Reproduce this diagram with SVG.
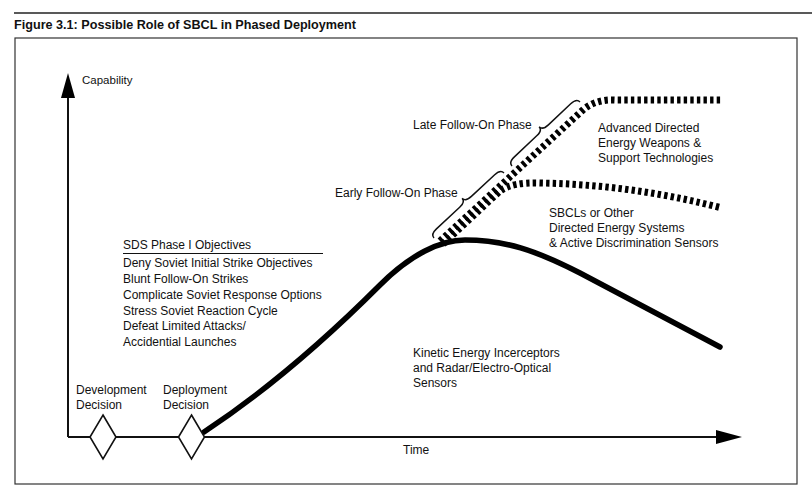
<svg xmlns="http://www.w3.org/2000/svg" width="812" height="500" viewBox="0 0 812 500">
<style>
  text { font-family: "Liberation Sans", Arial, sans-serif; font-size: 12px; fill: #111; }
  .title { font-weight: bold; font-size: 12.5px; }
  .axis { stroke: #111; stroke-width: 2; fill: none; }
  .solid { stroke: #000; stroke-width: 5.5; fill: none; stroke-linecap: round; }
  .dash { stroke: #000; stroke-width: 7; fill: none; stroke-dasharray: 3.4 3.2; }
  .brace { stroke: #111; stroke-width: 1.5; fill: none; }
  .diamond { fill: #fff; stroke: #111; stroke-width: 1.6; }
  .frame { fill: none; stroke: #333; stroke-width: 1.2; }
</style>
<rect width="812" height="500" fill="#fff"/>
<line x1="14" y1="13" x2="812" y2="13" stroke="#222" stroke-width="1.5"/>
<text class="title" x="14" y="29" textLength="342" lengthAdjust="spacingAndGlyphs">Figure 3.1: Possible Role of SBCL in Phased Deployment</text>
<rect class="frame" x="15" y="38" width="782" height="446"/>

<g id="axes">
  <line class="axis" x1="68" y1="437" x2="68" y2="94"/>
  <polygon points="68,73 61,98 75,98" fill="#000"/>
  <line class="axis" x1="68" y1="437" x2="720" y2="437"/>
  <polygon points="742,437 716,430 716,444" fill="#000"/>
  <text x="82" y="84" style="font-size:11.5px">Capability</text>
  <text x="403" y="454">Time</text>
</g>

<g id="connectors">
  <path class="solid" d="M 204 432 C 260 395, 320 345, 380 285 C 410 255, 440 240, 465 240 C 505 240, 535 250, 580 273 L 720 347"/>
  <path class="dash" d="M 440 241 L 584 109 Q 597 99, 615 100 L 722 100"/>
  <path class="dash" d="M 443 244 L 500 191 Q 512 182, 540 183 C 600 184, 660 192, 722 208"/>
</g>

<g id="early-brace">
  <g transform="translate(434,238) rotate(-42.9)">
    <path class="brace" d="M 0 0 Q 0 -5 8 -5 L 39.7 -5 Q 47.7 -5 47.7 -10 Q 47.7 -5 55.7 -5 L 87.5 -5 Q 95.5 -5 95.5 0"/>
  </g>
  <text x="335" y="197">Early Follow-On Phase</text>
</g>

<g id="late-brace">
  <g transform="translate(512,166) rotate(-43.3)">
    <path class="brace" d="M 0 0 Q 0 -5 8 -5 L 38.7 -5 Q 46.7 -5 46.7 -10 Q 46.7 -5 54.7 -5 L 85.4 -5 Q 93.4 -5 93.4 0"/>
  </g>
  <text x="413" y="129">Late Follow-On Phase</text>
</g>

<g id="advanced">
  <text x="598" y="132">Advanced Directed</text>
  <text x="598" y="147">Energy Weapons &amp;</text>
  <text x="598" y="162">Support Technologies</text>
</g>

<g id="sbcl">
  <text x="549" y="217">SBCLs or Other</text>
  <text x="549" y="232">Directed Energy Systems</text>
  <text x="549" y="247">&amp; Active Discrimination Sensors</text>
</g>

<g id="kinetic">
  <text x="413" y="357">Kinetic Energy Incerceptors</text>
  <text x="413" y="372">and Radar/Electro-Optical</text>
  <text x="413" y="387">Sensors</text>
</g>

<g id="objectives">
  <text x="123" y="249">SDS Phase I Objectives</text>
  <line x1="123" y1="253.5" x2="323" y2="253.5" stroke="#111" stroke-width="1"/>
  <text x="123" y="267">Deny Soviet Initial Strike Objectives</text>
  <text x="123" y="283">Blunt Follow-On Strikes</text>
  <text x="123" y="299">Complicate Soviet Response Options</text>
  <text x="123" y="315">Stress Soviet Reaction Cycle</text>
  <text x="123" y="330">Defeat Limited Attacks/</text>
  <text x="123" y="346">Accidential Launches</text>
</g>

<g id="development-decision">
  <polygon class="diamond" points="103,415 116,437 103,459 90,437"/>
  <text x="76" y="394">Development</text>
  <text x="76" y="409">Decision</text>
</g>

<g id="deployment-decision">
  <polygon class="diamond" points="191.5,415 204.5,437 191.5,459 178.5,437"/>
  <text x="163" y="394">Deployment</text>
  <text x="163" y="409">Decision</text>
</g>
</svg>
